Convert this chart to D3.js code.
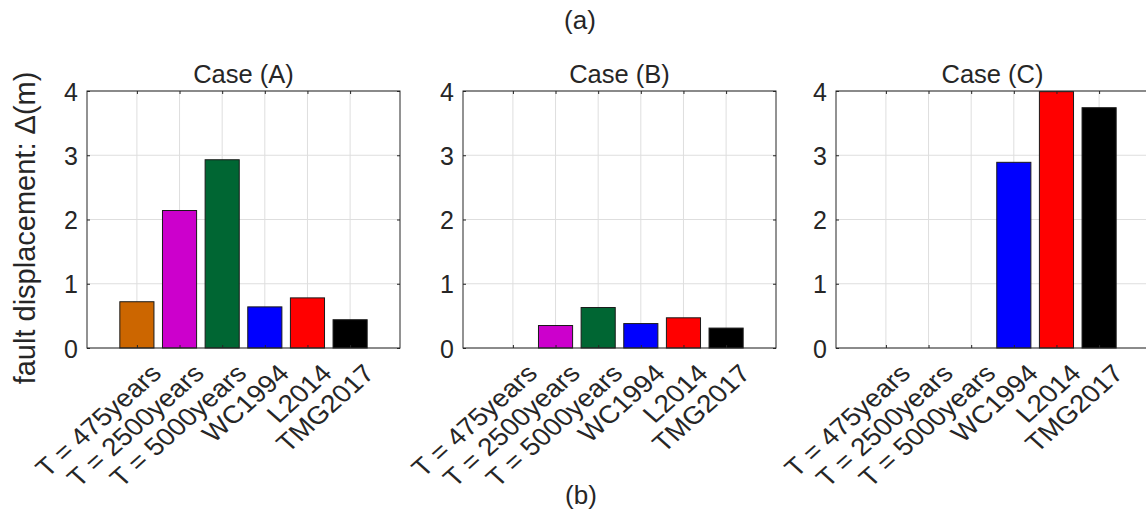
<!DOCTYPE html>
<html>
<head>
<meta charset="utf-8">
<script src="https://cdn.jsdelivr.net/npm/d3@7"></script>
<style>
  html, body { margin: 0; padding: 0; background: #fff; }
  svg { display: block; font-family: "Liberation Sans", Arial, Helvetica, sans-serif; }
</style>
</head>
<body>
<svg id="chart" width="1146" height="515"></svg>
<script>
// ---- data ----
const categories = ["T = 475years", "T = 2500years", "T = 5000years", "WC1994", "L2014", "TMG2017"];
const caseTitles = ["Case (A)", "Case (B)", "Case (C)"];
const caseA = [0.72, 2.14, 2.93, 0.64, 0.78, 0.44];
const caseB = [0, 0.35, 0.63, 0.38, 0.47, 0.31];
const caseC = [0, 0, 0, 2.89, 3.99, 3.74];
const barColors = ["#cc6600", "#cc00cc", "#006633", "#0000ff", "#ff0000", "#000000"];
const yTicks = [0, 1, 2, 3, 4];
const yLabel = "fault displacement: \u0394(m)";
const topLabel = "(a)";
const bottomLabel = "(b)";

// ---- layout ----
const svg = d3.select("#chart");
const panelLefts = [87, 463, 836];
const panelWidth = 313;
const plotTop = 91, plotBottom = 348;
const textColor = "#262626";
const tickFont = 25;

const y = d3.scaleLinear().domain([0, 4]).range([plotBottom, plotTop]);
const allCases = [caseA, caseB, caseC];

allCases.forEach((vals, i) => {
  const x0 = panelLefts[i], x1 = x0 + panelWidth;
  const x = d3.scalePoint().domain(categories).range([x0, x1]).padding(1.17);
  const step = x.step();
  const bw = step * 0.8;
  const g = svg.append("g");

  // grid
  g.selectAll("line.vgrid").data(categories).join("line").attr("class", "vgrid")
    .attr("x1", d => x(d)).attr("x2", d => x(d))
    .attr("y1", plotTop).attr("y2", plotBottom)
    .attr("stroke", "#dedede").attr("stroke-width", 1);
  g.selectAll("line.hgrid").data(yTicks).join("line").attr("class", "hgrid")
    .attr("x1", x0).attr("x2", x1)
    .attr("y1", d => y(d)).attr("y2", d => y(d))
    .attr("stroke", "#dedede").attr("stroke-width", 1);

  // bars
  const data = categories.map((c, k) => ({c, v: vals[k], col: barColors[k]})).filter(d => d.v > 0);
  g.selectAll("rect.bar").data(data).join("rect").attr("class", "bar")
    .attr("x", d => x(d.c) - bw / 2)
    .attr("width", bw)
    .attr("y", d => y(d.v))
    .attr("height", d => y(0) - y(d.v))
    .attr("fill", d => d.col)
    .attr("stroke", "#1a1a1a").attr("stroke-width", 1);

  // axes (left with labels, plus inward ticks on all sides)
  const yAxis = d3.axisLeft(y).tickValues(yTicks).tickSizeInner(-3).tickSizeOuter(0).tickPadding(9).tickFormat(d3.format("d"));
  const ga = g.append("g").attr("transform", `translate(${x0},0)`).call(yAxis);
  ga.select(".domain").remove();
  ga.selectAll("line").attr("stroke", textColor);
  ga.selectAll("text").attr("font-size", tickFont).attr("fill", textColor)
    .attr("font-family", '"Liberation Sans", Arial, sans-serif').attr("dy", "0.36em");

  const yAxisR = d3.axisRight(y).tickValues(yTicks).tickSizeInner(-3).tickSizeOuter(0).tickFormat("");
  const gr = g.append("g").attr("transform", `translate(${x1},0)`).call(yAxisR);
  gr.select(".domain").remove();
  gr.selectAll("line").attr("stroke", textColor);

  const xAxisB = d3.axisBottom(x).tickSizeInner(-3).tickSizeOuter(0).tickFormat("");
  const gb = g.append("g").attr("transform", `translate(0,${plotBottom})`).call(xAxisB);
  gb.select(".domain").remove();
  gb.selectAll("line").attr("stroke", textColor);
  const xAxisT = d3.axisTop(x).tickSizeInner(-3).tickSizeOuter(0).tickFormat("");
  const gt = g.append("g").attr("transform", `translate(0,${plotTop})`).call(xAxisT);
  gt.select(".domain").remove();
  gt.selectAll("line").attr("stroke", textColor);

  // box
  g.append("rect").attr("x", x0).attr("y", plotTop).attr("width", panelWidth).attr("height", plotBottom - plotTop)
    .attr("fill", "none").attr("stroke", textColor).attr("stroke-width", 1);

  // x tick labels rotated
  g.selectAll("text.xl").data(categories).join("text").attr("class", "xl")
    .attr("transform", d => `translate(${x(d) + 26},${plotBottom + 27}) scale(1.12,1) rotate(-45)`)
    .attr("text-anchor", "end")
    .attr("font-size", tickFont)
    .attr("fill", textColor)
    .text(d => d);

  // title
  g.append("text").attr("x", (x0 + x1) / 2).attr("y", 83)
    .attr("text-anchor", "middle").attr("font-size", 25.5).attr("fill", textColor)
    .text(caseTitles[i]);
});

// y label
svg.append("text")
  .attr("transform", `translate(35,228) rotate(-90)`)
  .attr("text-anchor", "middle").attr("font-size", 29).attr("fill", textColor)
  .text(yLabel);

svg.append("text").attr("x", 580).attr("y", 29).attr("text-anchor", "middle")
  .attr("font-size", 26).attr("fill", textColor).text(topLabel);
svg.append("text").attr("x", 581).attr("y", 504).attr("text-anchor", "middle")
  .attr("font-size", 26).attr("fill", textColor).text(bottomLabel);
</script>
</body>
</html>
